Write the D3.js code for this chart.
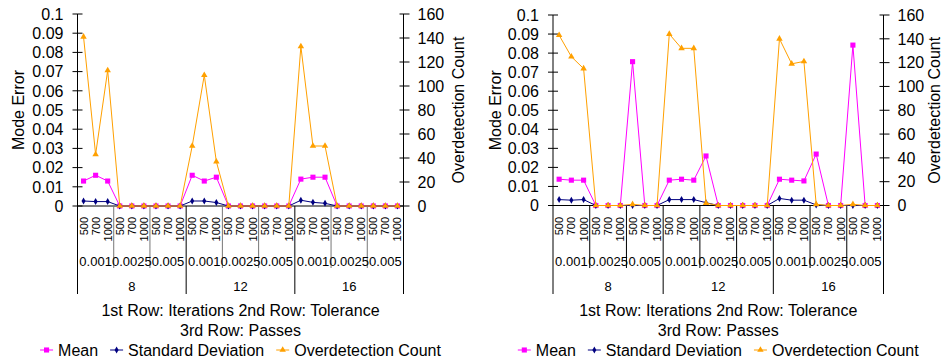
<!DOCTYPE html>
<html>
<head>
<meta charset="utf-8">
<script src="https://cdn.jsdelivr.net/npm/d3@7"></script>
<style>
  body { margin: 0; background: #fff; }
  text { font-family: "Liberation Sans", Arial, Helvetica, sans-serif; fill: #000; }
</style>
</head>
<body>
<svg id="chart" width="943" height="363"></svg>
<script>
// category rows
var passes = ["8", "12", "16"];
var tolerances = ["0.001", "0.0025", "0.005"];
var iterations = ["500", "700", "1000"];

// axis ticks
var errorTicks = [0, 0.01, 0.02, 0.03, 0.04, 0.05, 0.06, 0.07, 0.08, 0.09, 0.1];
var countTicks = [0, 20, 40, 60, 80, 100, 120, 140, 160];

// left chart values (27 points: passes x tolerance x iterations)
var leftMean = [0.013, 0.016, 0.013, 0, 0, 0, 0, 0, 0,
                0.016, 0.013, 0.015, 0, 0, 0, 0, 0, 0,
                0.014, 0.015, 0.015, 0, 0, 0, 0, 0, 0];
var leftStd = [0.0026, 0.0023, 0.0023, 0, 0, 0, 0, 0, 0,
               0.0026, 0.0026, 0.0018, 0, 0, 0, 0, 0, 0,
               0.003, 0.0019, 0.0014, 0, 0, 0, 0, 0, 0];
var leftOver = [141, 43, 113, 0, 0, 0, 0, 0, 0,
                50, 109, 37, 0, 0, 0, 0, 0, 0,
                133, 50, 50, 0, 0, 0, 0, 0, 0];

// right chart values
var rightMean = [0.0138, 0.0133, 0.0133, 0, 0, 0, 0.0755, 0, 0,
                 0.0133, 0.0138, 0.0133, 0.026, 0, 0, 0, 0, 0,
                 0.0138, 0.0133, 0.0129, 0.027, 0, 0, 0.0842, 0, 0];
var rightStd = [0.0031, 0.0028, 0.0031, 0, 0, 0, 0, 0, 0,
                0.0031, 0.0031, 0.0031, 0.0015, 0, 0, 0, 0, 0,
                0.0037, 0.0028, 0.0028, 0.0003, 0, 0, 0, 0, 0];
var rightOver = [143, 125, 115, 0, 0, 0, 1, 0, 0,
                 144, 132, 132, 2, 0, 0, 0, 0, 0,
                 140, 119, 121, 1, 0, 0, 1, 0, 0];

var seriesNames = ["Mean", "Standard Deviation", "Overdetection Count"];

var svg = d3.select("#chart");
svg.append("rect").attr("width", 943).attr("height", 363).attr("fill", "#fff");

// marker + colour per series
var styles = [
  { color: "#ff00ff", symbol: d3.symbol(d3.symbolSquare, 26) },
  { color: "#000080", symbol: d3.symbol(d3.symbolDiamond, 14) },
  { color: "#ffa000", symbol: d3.symbol(d3.symbolTriangle, 18) }
];

function drawPanel(cfg, mean, std, over) {
  var g = svg.append("g");
  var n = passes.length * tolerances.length * iterations.length;

  var x = d3.scaleBand().domain(d3.range(n)).range([cfg.x0, cfg.x1]);
  var yErr = d3.scaleLinear().domain([0, 0.1]).range([cfg.yBot, cfg.yTop]);
  var yCnt = d3.scaleLinear().domain([0, 160]).range([cfg.yBot, cfg.yTop]);
  var cx = function (i) { return x(i) + x.bandwidth() / 2; };

  // axes lines
  g.append("line").attr("x1", cfg.x0).attr("x2", cfg.x1).attr("y1", cfg.yBot).attr("y2", cfg.yBot).attr("stroke", "#000");
  g.append("line").attr("x1", cfg.x0).attr("x2", cfg.x0).attr("y1", cfg.yTop).attr("y2", cfg.yBot).attr("stroke", "#000");
  g.append("line").attr("x1", cfg.x1).attr("x2", cfg.x1).attr("y1", cfg.yTop).attr("y2", cfg.yBot).attr("stroke", "#000");

  // left ticks
  g.selectAll(".lt").data(errorTicks).enter().append("line")
    .attr("x1", cfg.x0 - 5).attr("x2", cfg.x0 + 5)
    .attr("y1", function (d) { return yErr(d); }).attr("y2", function (d) { return yErr(d); })
    .attr("stroke", "#000");
  g.selectAll(".ll").data(errorTicks).enter().append("text")
    .attr("x", cfg.x0 - 14).attr("y", function (d) { return yErr(d); })
    .attr("dy", "0.36em").attr("text-anchor", "end").style("font-size", "16px")
    .text(function (d) { return String(+d.toFixed(2)); });

  // right ticks
  g.selectAll(".rt").data(countTicks).enter().append("line")
    .attr("x1", cfg.x1 - 4).attr("x2", cfg.x1 + 6)
    .attr("y1", function (d) { return yCnt(d); }).attr("y2", function (d) { return yCnt(d); })
    .attr("stroke", "#000");
  g.selectAll(".rl").data(countTicks).enter().append("text")
    .attr("x", cfg.x1 + 14).attr("y", function (d) { return yCnt(d); })
    .attr("dy", "0.36em").attr("text-anchor", "start").style("font-size", "16px")
    .text(function (d) { return d; });

  // axis titles
  g.append("text").attr("transform", "translate(" + cfg.leftTitleX + "," + (cfg.yTop + cfg.yBot) / 2 + ") rotate(-90)")
    .attr("text-anchor", "middle").attr("dy", "0.35em").style("font-size", "16px").text("Mode Error");
  g.append("text").attr("transform", "translate(" + cfg.rightTitleX + "," + (cfg.yTop + cfg.yBot) / 2 + ") rotate(-90)")
    .attr("text-anchor", "middle").attr("dy", "0.35em").style("font-size", "16px").text("Overdetection Count");

  // category labels: iterations (rotated)
  var idx = d3.range(n);
  g.selectAll(".it").data(idx).enter().append("text")
    .attr("transform", function (i) { return "translate(" + cx(i) + ",217) rotate(-90)"; })
    .attr("text-anchor", "end").attr("dy", "0.36em").style("font-size", "11px")
    .text(function (i) { return iterations[i % 3]; });

  // tolerance separators and labels
  var tolW = x.bandwidth() * iterations.length;
  var passW = tolW * tolerances.length;
  var tolIdx = d3.range(passes.length * tolerances.length);
  g.selectAll(".ts").data(tolIdx.filter(function (k) { return k % 3 !== 0; })).enter().append("line")
    .attr("x1", function (k) { return cfg.x0 + k * tolW; }).attr("x2", function (k) { return cfg.x0 + k * tolW; })
    .attr("y1", cfg.yBot).attr("y2", 268).attr("stroke", cfg.tolColor);
  g.selectAll(".tl").data(tolIdx).enter().append("text")
    .attr("x", function (k) { return cfg.x0 + (k + 0.5) * tolW; }).attr("y", 266)
    .attr("text-anchor", "middle").style("font-size", "13px")
    .text(function (k) { return tolerances[k % 3]; });

  // pass separators and labels
  g.selectAll(".ps").data(d3.range(passes.length + 1)).enter().append("line")
    .attr("x1", function (k) { return cfg.x0 + k * passW; }).attr("x2", function (k) { return cfg.x0 + k * passW; })
    .attr("y1", cfg.yBot).attr("y2", 294).attr("stroke", "#000");
  g.selectAll(".pl").data(passes).enter().append("text")
    .attr("x", function (d, k) { return cfg.x0 + (k + 0.5) * passW; }).attr("y", 291)
    .attr("text-anchor", "middle").style("font-size", "13px")
    .text(function (d) { return d; });

  // series
  var data = [mean, std, over];
  var scales = [yErr, yErr, yCnt];
  data.forEach(function (vals, s) {
    var line = d3.line().x(function (d, i) { return cx(i); }).y(function (d) { return scales[s](d); });
    g.append("path").datum(vals).attr("d", line).attr("fill", "none")
      .attr("stroke", styles[s].color).attr("stroke-width", 1);
    g.selectAll(".m" + s).data(vals).enter().append("path")
      .attr("transform", function (d, i) { return "translate(" + cx(i) + "," + scales[s](d) + ")"; })
      .attr("d", styles[s].symbol).attr("fill", styles[s].color);
  });

  // footer titles
  var mid = (cfg.x0 + cfg.x1) / 2;
  g.append("text").attr("x", mid).attr("y", 316).attr("text-anchor", "middle").style("font-size", "16px")
    .text("1st Row: Iterations 2nd Row: Tolerance");
  g.append("text").attr("x", mid).attr("y", 336).attr("text-anchor", "middle").style("font-size", "16px")
    .text("3rd Row: Passes");

  // legend
  var leg = g.append("g");
  var cursor = 0;
  seriesNames.forEach(function (name, s) {
    var item = leg.append("g").attr("transform", "translate(" + cursor + ",0)");
    item.append("line").attr("x1", 0).attr("x2", 13).attr("y1", 0).attr("y2", 0)
      .attr("stroke", styles[s].color).attr("stroke-width", 1);
    item.append("path").attr("transform", "translate(6.5,0)").attr("d", styles[s].symbol).attr("fill", styles[s].color);
    var t = item.append("text").attr("x", 18).attr("y", 0).attr("dy", "0.36em").style("font-size", "16px").text(name);
    cursor += 18 + t.node().getComputedTextLength() + 12;
  });
  var total = cursor - 12;
  leg.attr("transform", "translate(" + (mid - total / 2) + ",350)");
}

drawPanel({ x0: 77.5, x1: 403.5, yTop: 14, yBot: 206, leftTitleX: 18, rightTitleX: 458, tolColor: "#777" },
  leftMean, leftStd, leftOver);
drawPanel({ x0: 553, x1: 883.5, yTop: 15, yBot: 205.5, leftTitleX: 495, rightTitleX: 934, tolColor: "#000" },
  rightMean, rightStd, rightOver);
</script>
</body>
</html>
